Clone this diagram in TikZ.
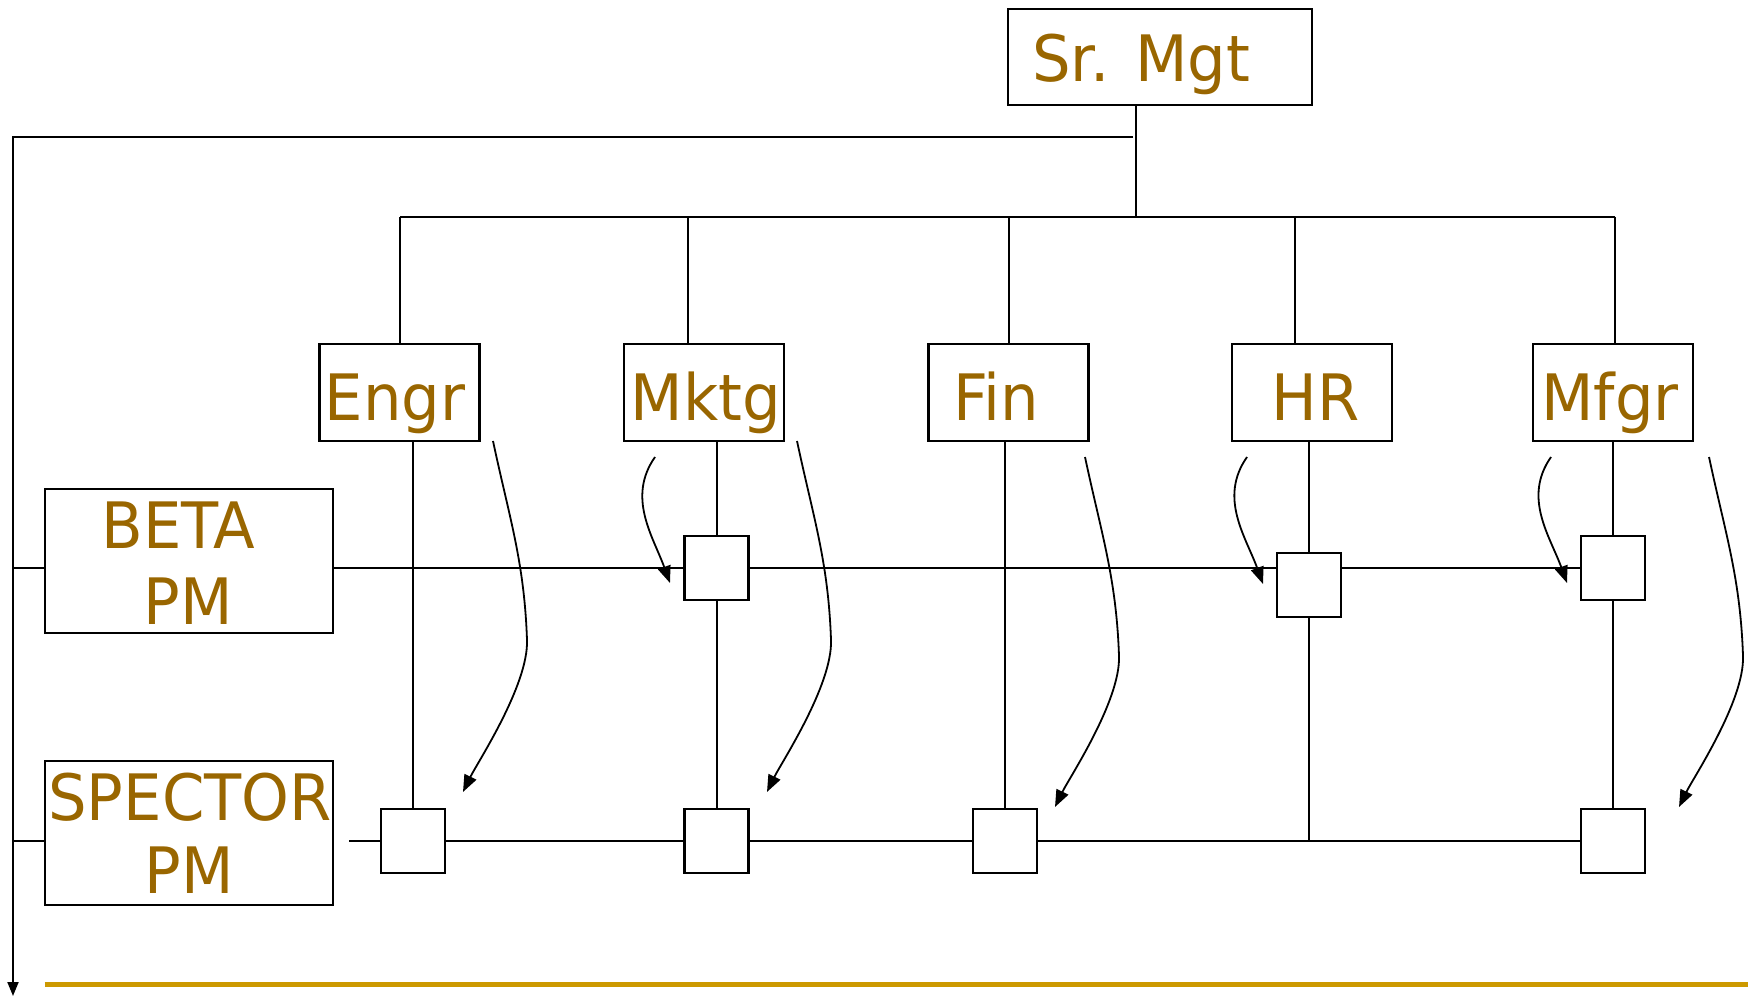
\documentclass[tikz,border=0pt]{standalone}
\usepackage{fontspec}
\newfontfamily\lblfont[FakeStretch=0.95]{DejaVu Sans}
\usetikzlibrary{arrows.meta}

\definecolor{txtbrown}{RGB}{153,102,0}
\definecolor{timegold}{RGB}{204,153,0}

\tikzset{
  box/.style={draw, line width=1.1pt, inner sep=0pt},
  deptbox/.style={box, minimum width=80pt, minimum height=48.5pt},
  pmbox/.style={box, minimum width=144pt, minimum height=72pt},
  taskbox/.style={box, minimum width=32pt, minimum height=32pt},
  lbl/.style={font=\lblfont\fontsize{32}{38}\selectfont, text=txtbrown, inner sep=0pt, anchor=base},
  link/.style={line width=1pt},
  handoff/.style={line width=0.9pt, -{Triangle[length=8.5pt,width=6.5pt]}},
}

\begin{document}
\begin{tikzpicture}[x=0.5pt,y=0.5pt]
\useasboundingbox (0,0) rectangle (1748,996);

% ====================
% Senior management and its link to the departments
\node[box, minimum width=152pt, minimum height=48pt] (srmgt) at (1160,939) {};
\node[lbl] (srmgtT) at (1141,914.3) {Sr. Mgt};
\coordinate (hub) at (1136,779.3);
\draw[link] (srmgt.south -| hub) -- (hub);
% time axis down the left side
\coordinate (topR) at (1133,859.3);
\coordinate (topL) at (13,859.3);
\coordinate (timeEnd) at (13,0);
\draw[link, -{Triangle[length=7pt,width=5.5pt]}] (topR) -- (topL) -- (timeEnd);

% ====================
% Functional departments
\node[deptbox] (engr) at (399.5,603.5) {};
\node[deptbox] (mktg) at (704,603.5) {};
\node[deptbox] (fin) at (1008.5,603.5) {};
\node[deptbox] (hr) at (1312,603.5) {};
\node[deptbox] (mfgr) at (1613,603.5) {};
\node[lbl] (engrT) at (395,575) {Engr};
\node[lbl] (mktgT) at (705.6,575) {Mktg};
\node[lbl] (finT) at (996,575) {Fin};
\node[lbl] (hrT) at (1315.5,575) {HR};
\node[lbl] (mfgrT) at (1610,575) {Mfgr};
% bus from Sr. Mgt down to each department
\coordinate (busL) at (400,779.3);
\coordinate (busR) at (1615,779.3);
\draw[link] (busL) -- (busR);
\coordinate (mktgDrop) at ([xshift=-8pt]mktg.north);
\coordinate (hrDrop) at ([xshift=-8.5pt]hr.north);
\coordinate (mfgrDrop) at ([xshift=1pt]mfgr.north);
\draw[link] (engr.north |- busL) -- (engr.north);
\draw[link] (mktgDrop |- busL) -- (mktgDrop);
\draw[link] (fin.north |- busL) -- (fin.north);
\draw[link] (hrDrop |- busL) -- (hrDrop);
\draw[link] (mfgrDrop |- busL) -- (mfgrDrop);

% ====================
% Project managers and their task boxes
\node[pmbox] (beta) at (188.6,435.3) {};
\node[lbl] (betaT1) at (178.4,447.7) {BETA};
\node[lbl] (betaT2) at (188.5,371.7) {PM};
\node[pmbox] (spector) at (188.6,163.3) {};
\node[lbl] (spectorT1) at (190,176) {SPECTOR};
\node[lbl] (spectorT2) at (188.9,102.7) {PM};
% BETA row
\node[taskbox] (mktgB) at (716.5,427.6) {};
\node[taskbox] (hrB) at (1309,411) {};
\node[taskbox] (mfgrB) at (1613,427.6) {};
% SPECTOR row
\node[taskbox] (engrS) at (413,155) {};
\node[taskbox] (mktgS) at (716.5,155) {};
\node[taskbox] (finS) at (1005,155) {};
\node[taskbox] (mfgrS) at (1613,155) {};
% project lines
\coordinate (row1) at (13,427.6);
\coordinate (row2) at (13,155);
\coordinate (row2start) at (349,155);
\draw[link] (row1) -- (beta.west |- row1);
\draw[link] (beta.east |- row1) -- (mktgB.west);
\draw[link] (mktgB.east) -- (hrB.west |- row1);
\draw[link] (hrB.east |- row1) -- (mfgrB.west);
\draw[link] (row2) -- (spector.west |- row2);
\draw[link] (row2start) -- (engrS.west);
\draw[link] (engrS.east) -- (mktgS.west);
\draw[link] (mktgS.east) -- (finS.west);
\draw[link] (finS.east) -- (mfgrS.west);
% department lines down through the tasks
\draw[link] (engrS.north |- engr.south) -- (engrS.north);
\draw[link] (mktgB.north |- mktg.south) -- (mktgB.north);
\draw[link] (mktgB.south) -- (mktgS.north);
\draw[link] (finS.north |- fin.south) -- (finS.north);
\draw[link] (hrB.north |- hr.south) -- (hrB.north);
\draw[link] (hrB.south) -- (hrB.south |- row2);
\draw[link] (mfgr.south) -- (mfgrB.north);
\draw[link] (mfgrB.south) -- (mfgrS.north);

% ====================
% Hand-offs: long ones down to the SPECTOR row
\coordinate (engrOut) at (493,555);
\coordinate (engrBend) at (527,356);
\coordinate (engrIn) at (463,204);
\draw[handoff] (engrOut) to[out=-78,in=92] (engrBend) to[out=-88,in=64,out looseness=0.7,in looseness=0.5] (engrIn);
\coordinate (mktgOut) at (797,555);
\coordinate (mktgBend) at (831,356);
\coordinate (mktgIn) at (767,204);
\draw[handoff] (mktgOut) to[out=-78,in=92] (mktgBend) to[out=-88,in=64,out looseness=0.7,in looseness=0.5] (mktgIn);
\coordinate (finOut) at (1085,539);
\coordinate (finBend) at (1119,340);
\coordinate (finIn) at (1055,189);
\draw[handoff] (finOut) to[out=-78,in=92] (finBend) to[out=-88,in=64,out looseness=0.7,in looseness=0.5] (finIn);
\coordinate (mfgrOut) at (1709,539);
\coordinate (mfgrBend) at (1743,340);
\coordinate (mfgrIn) at (1679,189);
\draw[handoff] (mfgrOut) to[out=-78,in=92] (mfgrBend) to[out=-88,in=64,out looseness=0.7,in looseness=0.5] (mfgrIn);
% short ones into the BETA row
\coordinate (mktgShortOut) at (655,539);
\coordinate (mktgShortIn) at (670,413);
\draw[handoff] (mktgShortOut) to[out=-125,in=110] (mktgShortIn);
\coordinate (hrShortOut) at (1247,539);
\coordinate (hrShortIn) at (1263,412);
\draw[handoff] (hrShortOut) to[out=-125,in=110] (hrShortIn);
\coordinate (mfgrShortOut) at (1551,539);
\coordinate (mfgrShortIn) at (1567,413);
\draw[handoff] (mfgrShortOut) to[out=-125,in=110] (mfgrShortIn);

% ====================
% Gold rule along the bottom
\coordinate (goldL) at (44.6,12);
\coordinate (goldR) at (1748,12);
\draw[timegold, line width=2.5pt] (goldL) -- (goldR);

\end{tikzpicture}
\end{document}
